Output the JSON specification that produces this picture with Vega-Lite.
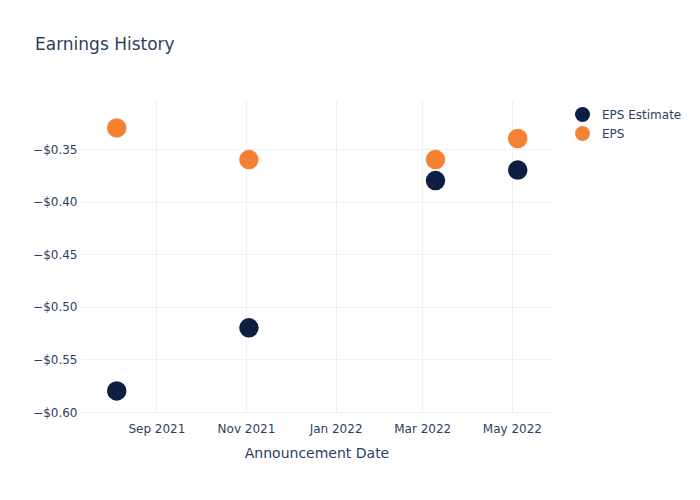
{
  "$schema": "https://vega.github.io/schema/vega-lite/v6.json",
  "width": 473,
  "height": 312,
  "autosize": {"type": "none"},
  "padding": {"left": 80, "top": 100, "right": 147, "bottom": 88},
  "background": "white",
  "title": {
    "text": "Earnings History",
    "anchor": "start",
    "frame": "group",
    "dx": -45,
    "offset": 46,
    "fontSize": 17,
    "font": "DejaVu Sans",
    "fontWeight": "normal",
    "color": "#2a3f5f"
  },
  "config": {
    "view": {"stroke": null},
    "font": "DejaVu Sans"
  },
  "data": {
    "values": [
      {"date": "2021-08-05", "series": "EPS Estimate", "value": -0.58},
      {"date": "2021-11-03", "series": "EPS Estimate", "value": -0.52},
      {"date": "2022-03-10", "series": "EPS Estimate", "value": -0.38},
      {"date": "2022-05-05", "series": "EPS Estimate", "value": -0.37},
      {"date": "2021-08-05", "series": "EPS", "value": -0.33},
      {"date": "2021-11-03", "series": "EPS", "value": -0.36},
      {"date": "2022-03-10", "series": "EPS", "value": -0.36},
      {"date": "2022-05-05", "series": "EPS", "value": -0.34}
    ]
  },
  "mark": {"type": "circle", "size": 380, "opacity": 1},
  "encoding": {
    "x": {
      "field": "date",
      "type": "temporal",
      "title": "Announcement Date",
      "scale": {
        "type": "utc",
        "domain": [
          {"year": 2021, "month": 7, "date": 11, "utc": true},
          {"year": 2022, "month": 5, "date": 29, "utc": true}
        ]
      },
      "axis": {
        "values": [
          {"year": 2021, "month": 9, "date": 1, "utc": true},
          {"year": 2021, "month": 11, "date": 1, "utc": true},
          {"year": 2022, "month": 1, "date": 1, "utc": true},
          {"year": 2022, "month": 3, "date": 1, "utc": true},
          {"year": 2022, "month": 5, "date": 1, "utc": true}
        ],
        "labelExpr": "utcFormat(datum.value, '%b %Y')",
        "domain": false,
        "ticks": false,
        "grid": true,
        "gridColor": "#EBF0F8",
        "gridWidth": 1,
        "labelFontSize": 12,
        "labelColor": "#2a3f5f",
        "labelPadding": 11,
        "labelFlush": false,
        "titleFontSize": 14,
        "titleFontWeight": "normal",
        "titleColor": "#2a3f5f",
        "titlePadding": 12
      }
    },
    "y": {
      "field": "value",
      "type": "quantitative",
      "title": null,
      "scale": {"domain": [-0.6, -0.3034], "nice": false, "zero": false},
      "axis": {
        "values": [-0.6, -0.55, -0.5, -0.45, -0.4, -0.35],
        "format": "$.2f",
        "domain": false,
        "ticks": false,
        "grid": true,
        "gridColor": "#EBF0F8",
        "gridWidth": 1,
        "labelFontSize": 12,
        "labelColor": "#2a3f5f",
        "labelPadding": 3
      }
    },
    "color": {
      "field": "series",
      "type": "nominal",
      "scale": {"domain": ["EPS Estimate", "EPS"], "range": ["#0c1f42", "#f58232"]},
      "legend": {
        "title": null,
        "orient": "none",
        "legendX": 495,
        "legendY": 7,
        "symbolType": "circle",
        "symbolSize": 225,
        "symbolStrokeWidth": 0,
        "symbolOpacity": 1,
        "labelFontSize": 12,
        "labelColor": "#2a3f5f",
        "labelOffset": 12,
        "rowPadding": 4,
        "padding": 0
      }
    },
    "order": {"field": "series", "sort": "descending"}
  }
}
